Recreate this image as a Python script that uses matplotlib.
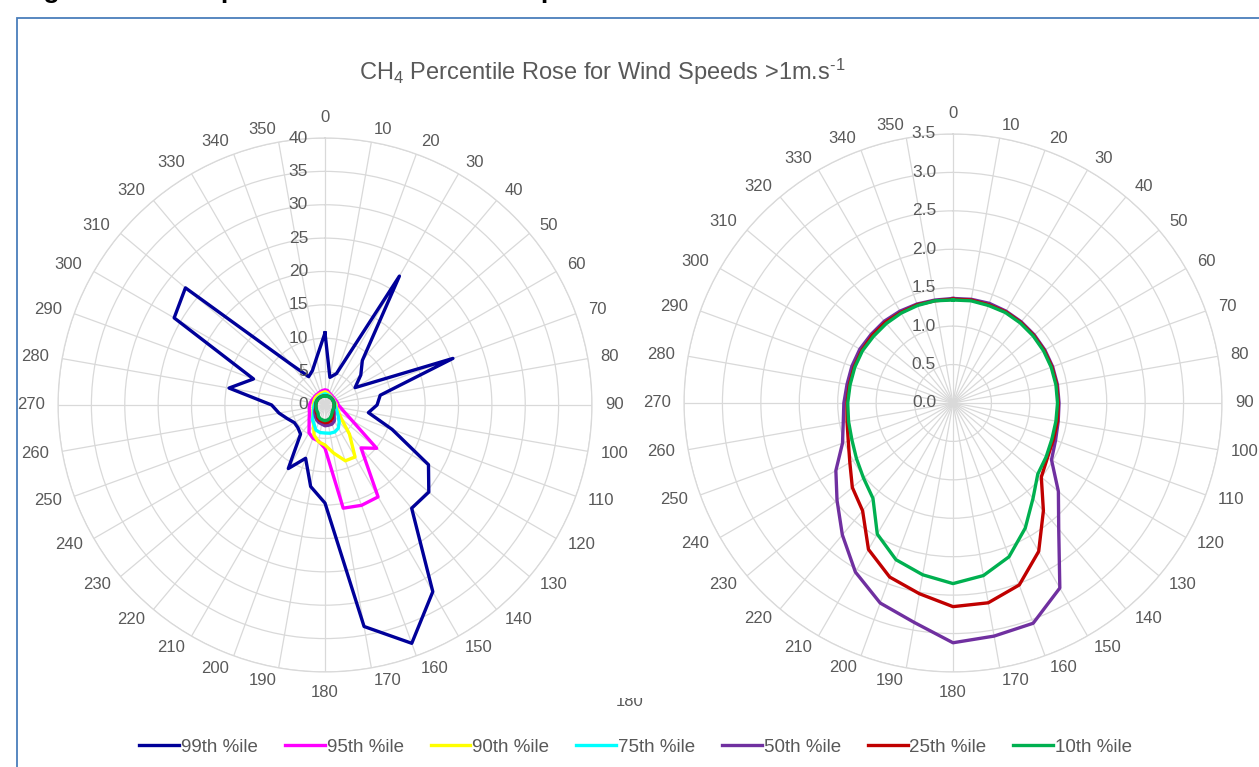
import numpy as np
import matplotlib
matplotlib.use('Agg')
import matplotlib.pyplot as plt
from matplotlib.transforms import offset_copy, Bbox
from matplotlib.patches import Rectangle

plt.rcParams['font.family'] = ['Liberation Sans', 'DejaVu Sans']
plt.rcParams['mathtext.fontset'] = 'custom'
plt.rcParams['mathtext.rm'] = 'Liberation Sans'
plt.rcParams['mathtext.it'] = 'Liberation Sans'
plt.rcParams['mathtext.bf'] = 'Liberation Sans:bold'

# wind direction (degrees) and CH4 percentile values per direction
directions = [0, 10, 20, 30, 40, 50, 60, 70, 80, 90, 100, 110, 120, 130, 140, 150, 160, 170,
              180, 190, 200, 210, 220, 230, 240, 250, 260, 270, 280, 290, 300, 310, 320, 330, 340, 350]

p99 = [10.8, 4.2, 5.0, 22.3, 8.7, 7.0, 5.2, 20.4, 8.4, 7.8, 6.6, 10.7, 17.9, 20.3, 20.2, 32.3, 38.0, 33.7,
       14.7, 12.4, 8.5, 11.0, 5.7, 5.3, 5.3, 6.0, 7.0, 8.0, 14.6, 11.4, 26.1, 27.3, 8.0, 4.9, 5.5, 7.2]
p95 = [2.2, 2.2, 1.9, 1.8, 1.7, 1.7, 1.7, 1.8, 1.9, 2.0, 2.4, 3.1, 4.7, 10.1, 8.4, 15.9, 16.0, 15.7,
       6.5, 5.5, 5.3, 4.8, 3.7, 3.1, 2.7, 2.5, 2.4, 2.35, 2.2, 2.1, 2.0, 2.0, 2.0, 2.0, 2.1, 2.2]
p90 = [1.9, 1.9, 1.7, 1.6, 1.5, 1.5, 1.5, 1.5, 1.6, 1.7, 1.7, 2.0, 2.4, 3.2, 5.7, 9.0, 8.9, 7.3,
       6.0, 5.6, 4.8, 3.4, 2.9, 2.4, 2.1, 1.9, 1.8, 1.75, 1.75, 1.75, 1.8, 1.8, 1.8, 1.8, 1.85, 1.9]
p75 = [1.6, 1.6, 1.55, 1.5, 1.45, 1.45, 1.45, 1.45, 1.5, 1.5, 1.6, 1.8, 2.1, 2.6, 3.3, 4.0, 4.3, 4.3,
       4.2, 4.2, 4.0, 3.3, 2.9, 2.3, 2.0, 1.8, 1.7, 1.6, 1.55, 1.5, 1.5, 1.5, 1.5, 1.5, 1.55, 1.6]
p50 = [1.36, 1.37, 1.38, 1.38, 1.38, 1.38, 1.38, 1.38, 1.38, 1.38, 1.39, 1.42, 1.48, 1.79, 2.14, 2.78, 3.05, 3.08,
       3.12, 2.90, 2.77, 2.54, 2.24, 1.97, 1.76, 1.53, 1.45, 1.42, 1.40, 1.40, 1.40, 1.39, 1.39, 1.38, 1.37, 1.36]
p25 = [1.35, 1.36, 1.36, 1.37, 1.37, 1.37, 1.37, 1.37, 1.37, 1.37, 1.38, 1.39, 1.42, 1.50, 1.83, 2.23, 2.52, 2.64,
       2.65, 2.52, 2.41, 2.20, 1.83, 1.71, 1.55, 1.45, 1.40, 1.38, 1.37, 1.37, 1.37, 1.37, 1.37, 1.36, 1.36, 1.35]
p10 = [1.34, 1.35, 1.35, 1.36, 1.36, 1.36, 1.36, 1.36, 1.36, 1.36, 1.36, 1.37, 1.40, 1.44, 1.62, 1.88, 2.13, 2.28,
       2.35, 2.27, 2.17, 1.97, 1.62, 1.52, 1.45, 1.40, 1.38, 1.37, 1.36, 1.36, 1.36, 1.35, 1.35, 1.35, 1.35, 1.35]

series_names = ['99th %ile', '95th %ile', '90th %ile', '75th %ile', '50th %ile', '25th %ile', '10th %ile']
series_colors = ['#000099', '#FF00FF', '#FFFF00', '#00FFFF', '#7030A0', '#C00000', '#00B050']
left_series = [p99, p95, p90, p75, p50, p25, p10]
right_series = [p50, p25, p10]

left_rticks = [0, 5, 10, 15, 20, 25, 30, 35, 40]
left_rlabels = ['0', '5', '10', '15', '20', '25', '30', '35', '40']
right_rticks = [0.0, 0.5, 1.0, 1.5, 2.0, 2.5, 3.0, 3.5]
right_rlabels = ['0.0', '0.5', '1.0', '1.5', '2.0', '2.5', '3.0', '3.5']

GRAY = '#595959'
GRID = '#D9D9D9'

fig = plt.figure(figsize=(12.59, 7.67), dpi=100)


def closed(vals):
    return np.append(vals, vals[0])


def setup_rose(ax, rticks, rlabels):
    ax.set_theta_zero_location('N')
    ax.set_theta_direction(-1)
    ax.set_thetagrids(directions, [''] * len(directions))
    ax.set_ylim(rticks[0], rticks[-1])
    ax.set_yticks(rticks)
    ax.set_yticklabels([])
    ax.grid(color=GRID, linewidth=0.9)
    ax.spines['polar'].set_color(GRID)
    ax.spines['polar'].set_linewidth(0.9)
    ax.tick_params(axis='x', length=0)
    # direction labels, placed outside the rim like the spreadsheet does
    gap = 13
    for d in directions:
        t = np.deg2rad(d)
        if d in (0, 180):
            ha = 'center'
        elif d < 180:
            ha = 'left'
        else:
            ha = 'right'
        va = 'bottom' if d == 0 else ('top' if d == 180 else 'center')
        trans = offset_copy(ax.transData, fig=fig, x=gap * np.sin(t), y=gap * np.cos(t), units='dots')
        ax.text(t, rticks[-1], str(d), transform=trans, ha=ha, va=va,
                fontsize=12, color=GRAY, clip_on=False)
    trans = offset_copy(ax.transData, fig=fig, x=-17, y=0, units='dots')
    for r, lab in zip(rticks, rlabels):
        ax.text(0, r, lab, transform=trans, ha='right', va='center',
                fontsize=12.5, color=GRAY)


theta = np.deg2rad(closed(directions))

ax1 = fig.add_axes([0.0461, 0.1239, 0.4241, 0.6962], projection='polar')
setup_rose(ax1, left_rticks, left_rlabels)
lines = []
for vals, name, col in zip(left_series, series_names, series_colors):
    ln, = ax1.plot(theta, closed(vals), color=col, linewidth=2.4, label=name)
    lines.append(ln)

ax2 = fig.add_axes([0.5433, 0.1239, 0.4273, 0.7014], projection='polar')
setup_rose(ax2, right_rticks, right_rlabels)
for vals, col in zip(right_series, series_colors[4:]):
    ax2.plot(theta, closed(vals), color=col, linewidth=2.4)

fig.text(0.478, 0.906, r'CH$_4$ Percentile Rose for Wind Speeds >1m.s$^{\text{-1}}$',
         ha='center', va='center', fontsize=17, color=GRAY)

fig.legend(lines, series_names, loc='center', bbox_to_anchor=(0.505, 0.026), ncol=7,
           frameon=False, fontsize=13.5, handlelength=2.13, handletextpad=0.1,
           columnspacing=1.43, labelcolor=GRAY)

# chart-area border and the clipped caption / hidden label pieces
fig.patches.append(Rectangle((17 / 1259, -0.05), 1.2, 1 - 18 / 767 + 0.05,
                             transform=fig.transFigure, fill=False,
                             edgecolor='#4A7EBB', linewidth=1.3))
fig.text(20 / 1259, 1 + 2 / 767, r'Figure 3.5: CH4 percentile rose for wind speeds >1m.s-1',
         ha='left', va='baseline', fontsize=19, weight='bold', color='black')
hidden = fig.text(630 / 1259, 1 - 701 / 767, '180', ha='center', va='center',
                  fontsize=12, color=GRAY)
hidden.set_clip_box(Bbox([[0, 0], [1259, 767 - 698]]))
hidden.set_clip_on(True)

fig.savefig('out.png', dpi=100)
